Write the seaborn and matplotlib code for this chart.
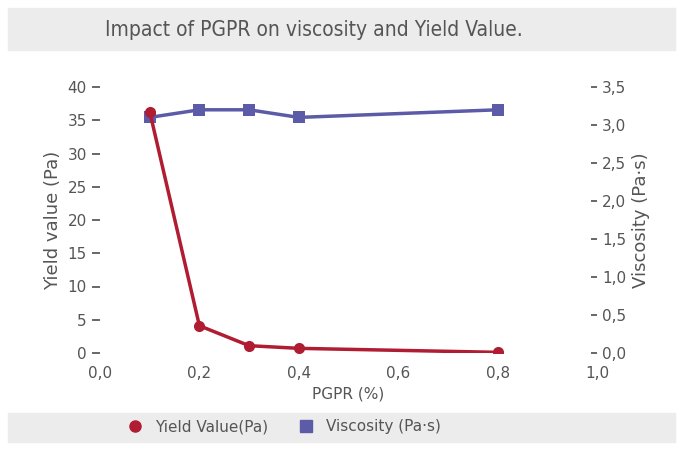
import matplotlib
matplotlib.use("Agg")
import matplotlib.pyplot as plt
import seaborn as sns
import pandas as pd
from matplotlib.patches import Rectangle
from matplotlib.ticker import FuncFormatter
from matplotlib.lines import Line2D

pgpr = [0.1, 0.2, 0.3, 0.4, 0.8]
yield_value = [36.3, 4.1, 1.1, 0.7, 0.1]
viscosity = [3.1, 3.2, 3.2, 3.1, 3.2]

sns.set_theme(style="white")
plt.rcParams['font.family'] = ['DejaVu Sans']
red = "#b01c32"; blue = "#5b5ba8"; grey = "#555555"

fig = plt.figure(figsize=(6.83, 4.5), dpi=100)
fig.patches.append(Rectangle((8/683, 1-50/450), 667/683, 42/450, transform=fig.transFigure, color="#ececec", zorder=0))
fig.patches.append(Rectangle((8/683, 1-442/450), 667/683, 29/450, transform=fig.transFigure, color="#ececec", zorder=0))
fig.text(105/683, 1-30/450, "Impact of PGPR on viscosity and Yield Value.", fontsize=15, color=grey, va="center", fontstretch="condensed")

ax = fig.add_axes([100/683, 1-353/450, 497/683, 266/450])
df = pd.DataFrame({"x": pgpr, "y": yield_value, "v": viscosity})
ax2 = ax.twinx()
ax.set_zorder(2); ax.patch.set_visible(False)
ax2.set_zorder(1); ax2.set_facecolor("#efefef")

sns.lineplot(data=df, x="x", y="y", ax=ax, color=red, lw=2.5, marker="o", markersize=8, markeredgewidth=0)
ax.set_xlim(0, 1.0); ax.set_ylim(0, 40)
ax.set_xticks([0, 0.2, 0.4, 0.6, 0.8, 1.0]); ax.set_yticks(range(0, 41, 5))
fmt = FuncFormatter(lambda v, p: f"{v:.1f}".replace(".", ","))
ax.xaxis.set_major_formatter(fmt)
ax.set_xlabel("PGPR (%)", color=grey, fontsize=11)
ax.set_ylabel("Yield value (Pa)", color=grey, fontsize=13)
for s in ax.spines.values(): s.set_visible(False)
ax.tick_params(colors=grey, labelsize=11)

sns.lineplot(data=df, x="x", y="v", ax=ax2, color=blue, lw=2.5, marker="s", markersize=8, markeredgewidth=0)
ax2.set_ylim(0, 3.5); ax2.set_yticks([i*0.5 for i in range(8)])
ax2.set_yticks([i*3.5/8 for i in range(9)], minor=True)
ax2.yaxis.grid(True, which="minor", color="white", lw=1)
ax2.tick_params(which="minor", length=0)
ax2.yaxis.set_major_formatter(fmt)
ax2.set_ylabel("Viscosity (Pa·s)", color=grey, fontsize=13)
ax2.tick_params(colors=grey, labelsize=11, direction="in", length=4, right=True)
for s in ax2.spines.values(): s.set_visible(False)
ax2.set_xlim(0, 1.0)

h = [Line2D([], [], color=red, marker="o", ls="", markersize=8),
     Line2D([], [], color=blue, marker="s", ls="", markersize=8)]
fig.legend(h, ["Yield Value(Pa)", "Viscosity (Pa·s)"], loc="center", bbox_to_anchor=(0.41, 1-427/450),
           ncol=2, frameon=False, fontsize=11, labelcolor=grey, handletextpad=0.3, columnspacing=1.5)
fig.savefig("out.png", dpi=100)
